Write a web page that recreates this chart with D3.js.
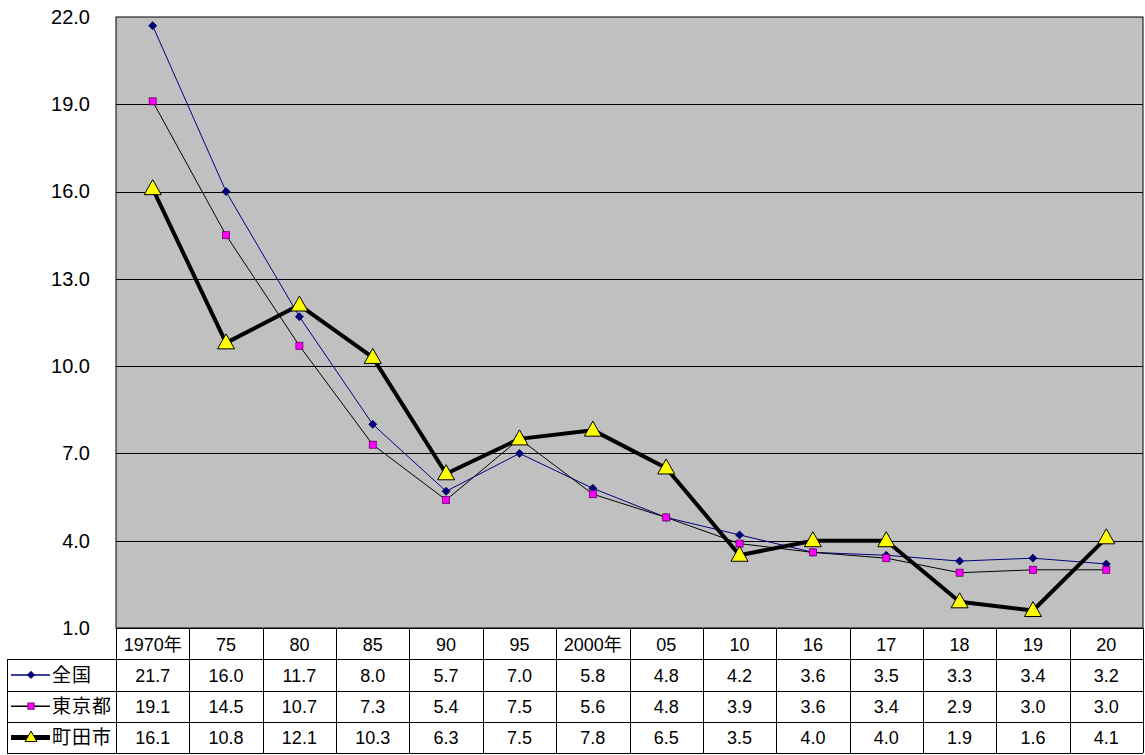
<!DOCTYPE html>
<html><head><meta charset="utf-8">
<script src="https://cdn.jsdelivr.net/npm/d3@7"></script>
<style>
body{margin:0;background:#fff;}
text{font-family:"Liberation Sans","Noto Sans CJK JP",Arial,sans-serif;}
</style></head><body>
<svg id="c" width="1145" height="755"></svg>
<script>
const categories = ["1970年","75","80","85","90","95","2000年","05","10","16","17","18","19","20"];
const zenkoku = [21.7,16.0,11.7,8.0,5.7,7.0,5.8,4.8,4.2,3.6,3.5,3.3,3.4,3.2];
const tokyo   = [19.1,14.5,10.7,7.3,5.4,7.5,5.6,4.8,3.9,3.6,3.4,2.9,3.0,3.0];
const machida = [16.1,10.8,12.1,10.3,6.3,7.5,7.8,6.5,3.5,4.0,4.0,1.9,1.6,4.1];
const seriesNames = ["全国","東京都","町田市"];
const yTicks = [1,4,7,10,13,16,19,22];

const svg = d3.select("#c");
const L=116, R=1143, T=17, B=628;
const x = d3.scaleBand().domain(categories).range([L,R]);
const y = d3.scaleLinear().domain([1,22]).range([B,T]);

svg.append("rect").attr("x",L).attr("y",T).attr("width",R-L).attr("height",B-T)
  .attr("fill","#c0c0c0").attr("stroke","#000").attr("stroke-width",1);

svg.append("g").selectAll("line").data(yTicks.filter(d=>d>1&&d<22)).join("line")
  .attr("x1",L).attr("x2",R).attr("y1",d=>Math.round(y(d))+0.5).attr("y2",d=>Math.round(y(d))+0.5)
  .attr("stroke","#000").attr("stroke-width",1);

const yAxis = d3.axisLeft(y).tickValues(yTicks).tickFormat(d3.format(".1f")).tickSize(0).tickPadding(26);
const ga = svg.append("g").attr("transform",`translate(${L},0)`).call(yAxis);
ga.select(".domain").remove();
ga.selectAll("text").attr("font-size",20).attr("fill","#000")
  .attr("font-family",'"Liberation Sans",Arial,sans-serif');

const cx = d => x(d)+x.bandwidth()/2;
const series = [
  {name:seriesNames[0], vals:zenkoku, color:"#000080", width:1, marker:"diamond"},
  {name:seriesNames[1], vals:tokyo, color:"#000000", width:1, marker:"square"},
  {name:seriesNames[2], vals:machida, color:"#000000", width:4, marker:"triangle"}
];
const line = d3.line().x((d,i)=>cx(categories[i])).y(d=>y(d));

function drawMarker(g, type, px, py, sc){
  sc = sc||1;
  if(type==="diamond"){
    const a=4*sc;
    g.append("path").attr("d",`M${px},${py-a}L${px+a},${py}L${px},${py+a}L${px-a},${py}Z`)
      .attr("fill","#000080").attr("stroke","#000040").attr("stroke-width",0.8);
  } else if(type==="square"){
    const a=3.5*sc;
    g.append("rect").attr("x",px-a).attr("y",py-a).attr("width",2*a).attr("height",2*a)
      .attr("fill","#ff00ff").attr("stroke","#600060").attr("stroke-width",0.8);
  } else {
    g.append("path").attr("d",`M${px},${py-9*sc}L${px+8.5*sc},${py+6*sc}L${px-8.5*sc},${py+6*sc}Z`)
      .attr("fill","#ffff00").attr("stroke","#000").attr("stroke-width",1);
  }
}

series.forEach(s=>{
  svg.append("path").datum(s.vals).attr("d",line).attr("fill","none")
    .attr("stroke",s.color).attr("stroke-width",s.width).attr("stroke-linejoin","round");
});
series.forEach(s=>{
  const g = svg.append("g");
  s.vals.forEach((v,i)=>drawMarker(g,s.marker,cx(categories[i]),y(v)));
});

// data table
const rowH = 31.25;
const tL = 7;
const tb = svg.append("g");
const rowsTop = B;
categories.forEach((c,i)=>{
  tb.append("text").attr("x",cx(c)).attr("y",rowsTop+rowH/2+7).attr("text-anchor","middle")
    .attr("font-size",18).text(c);
});
series.forEach((s,r)=>{
  const yc = rowsTop+rowH*(r+1)+rowH/2;
  s.vals.forEach((v,i)=>{
    tb.append("text").attr("x",cx(categories[i])).attr("y",yc+7).attr("text-anchor","middle")
      .attr("font-size",18).text(d3.format(".1f")(v));
  });
  const lg = tb.append("g");
  lg.append("line").attr("x1",11).attr("x2",50).attr("y1",yc).attr("y2",yc)
    .attr("stroke",s.color).attr("stroke-width",s.width===4?5:1.5);
  drawMarker(lg,s.marker,31,yc, s.marker==="triangle"?0.7:0.9);
  tb.append("text").attr("x",52).attr("y",yc+7).attr("font-size",19)
    .attr("font-family",'"Noto Sans CJK JP",sans-serif').attr("letter-spacing",1).text(s.name);
});
const gl = tb.append("g").attr("stroke","#000").attr("stroke-width",1);
for(let r=0;r<=4;r++){
  const yy = Math.round(rowsTop+rowH*r)+0.5;
  gl.append("line").attr("x1", r===0?L:tL).attr("x2",R).attr("y1",yy).attr("y2",yy);
}
const bounds = [L].concat(categories.map(c=>x(c)+x.bandwidth()));
bounds.forEach(b=>{
  gl.append("line").attr("x1",Math.round(b)+0.5).attr("x2",Math.round(b)+0.5)
    .attr("y1",rowsTop).attr("y2",rowsTop+rowH*4);
});
gl.append("line").attr("x1",tL+0.5).attr("x2",tL+0.5).attr("y1",rowsTop+rowH).attr("y2",rowsTop+rowH*4);
</script>
</body></html>
